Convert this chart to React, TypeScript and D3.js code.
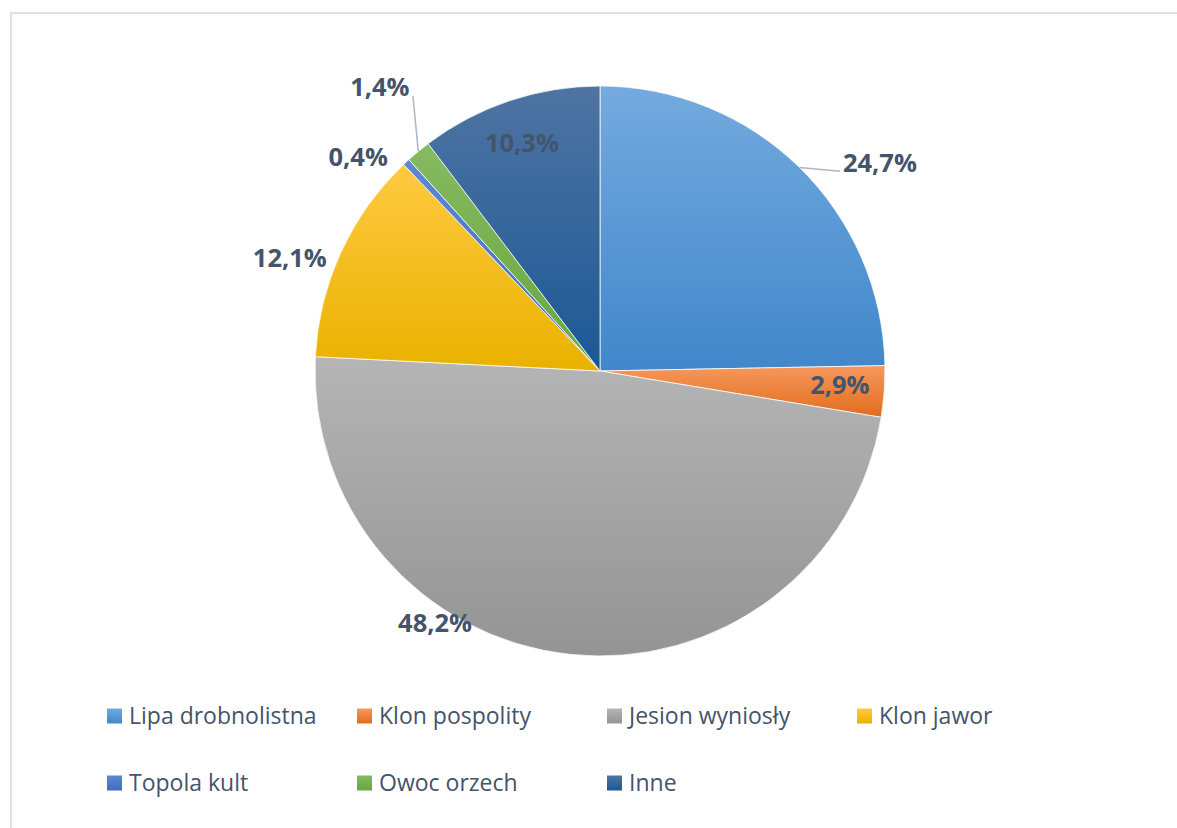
import React from 'react';
import * as d3 from 'd3';

// Species share of trees (percent)
const categories = [
  'Lipa drobnolistna',
  'Klon pospolity',
  'Jesion wyniosły',
  'Klon jawor',
  'Topola kult',
  'Owoc orzech',
  'Inne',
];
const shares = [24.7, 2.9, 48.2, 12.1, 0.4, 1.4, 10.3];
const shareLabels = ['24,7%', '2,9%', '48,2%', '12,1%', '0,4%', '1,4%', '10,3%'];

// Per-slice vertical gradient (lighter top, darker bottom)
const colorTop = ['#74aadf', '#f5985d', '#b5b5b5', '#ffca40', '#5d88d2', '#86ba60', '#4f74a2'];
const colorBottom = ['#4187cb', '#e26c1c', '#949494', '#e9b200', '#3e6bbf', '#68a63e', '#1b5896'];

// Label placement: angle (deg, clockwise from top) and radius as a fraction of R
const labelAngle = [53.3, 93.3, 213.2, 290.0, 311.5, 322.2, 341.1];
const labelRadius = [1.225, 0.843, 1.057, 1.158, 1.133, 1.26, 0.846];
// Leader line end, relative to the label centre (null = no leader)
const leaderEnd: ([number, number] | null)[] = [[-40, 9], null, null, null, null, [33, 9], null];

const W = 1177;
const H = 828;
const cx = 600;
const cy = 371;
const R = 285;

export default function App() {
  const pie = d3
    .pie<number>()
    .value((d) => d)
    .sort(null)
    .startAngle(0)
    .endAngle(2 * Math.PI);
  const arcs = pie(shares);
  const arc = d3.arc<d3.PieArcDatum<number>>().innerRadius(0).outerRadius(R);

  const polar = (angleRad: number, r: number): [number, number] => [
    cx + r * Math.sin(angleRad),
    cy - r * Math.cos(angleRad),
  ];

  const textColor = '#44546a';
  const legendX = d3.scaleLinear().domain([0, 1]).range([107, 357]);
  const legendY = d3.scaleLinear().domain([0, 1]).range([716, 783]);

  return (
    <svg
      width={W}
      height={H}
      style={{ position: 'absolute', left: 0, top: 0, background: '#fff' }}
    >
      <defs>
        {categories.map((c, i) => (
          <linearGradient key={c} id={`g${i}`} x1="0" y1="0" x2="0" y2="1">
            <stop offset="0%" stopColor={colorTop[i]} />
            <stop offset="100%" stopColor={colorBottom[i]} />
          </linearGradient>
        ))}
      </defs>

      <rect x={11} y={13} width={W + 20} height={H + 20} fill="#fff" stroke="#dde2e9" strokeWidth={2} />

      <g transform={`translate(${cx},${cy})`}>
        {arcs.map((a, i) => (
          <path key={i} d={arc(a) || ''} fill={`url(#g${i})`} stroke="#fff" strokeWidth={0.75} />
        ))}
      </g>

      {arcs.map((a, i) => {
        const end = leaderEnd[i];
        if (!end) return null;
        const mid = (a.startAngle + a.endAngle) / 2;
        const [sx, sy] = polar(mid, R);
        const [lx, ly] = polar((labelAngle[i] * Math.PI) / 180, labelRadius[i] * R);
        return (
          <line
            key={`l${i}`}
            x1={sx}
            y1={sy}
            x2={lx + end[0]}
            y2={ly + end[1]}
            stroke="#a9b6c5"
            strokeWidth={1.5}
          />
        );
      })}

      {shareLabels.map((t, i) => {
        const [lx, ly] = polar((labelAngle[i] * Math.PI) / 180, labelRadius[i] * R);
        return (
          <text
            key={`t${i}`}
            x={lx}
            y={ly}
            dy="0.36em"
            textAnchor="middle"
            fontFamily="'Open Sans', sans-serif"
            fontWeight={700}
            fontSize={25.5}
            fill={textColor}
          >
            {t}
          </text>
        );
      })}

      {categories.map((c, i) => {
        const col = i % 4;
        const row = Math.floor(i / 4);
        const x = legendX(col);
        const y = legendY(row);
        return (
          <g key={`lg${i}`}>
            <rect x={x} y={y - 7.5} width={15} height={15} fill={`url(#g${i})`} />
            <text
              x={x + 22}
              y={y}
              dy="0.36em"
              fontFamily="'Open Sans', sans-serif"
              fontSize={23}
              fill={textColor}
            >
              {c}
            </text>
          </g>
        );
      })}
    </svg>
  );
}
